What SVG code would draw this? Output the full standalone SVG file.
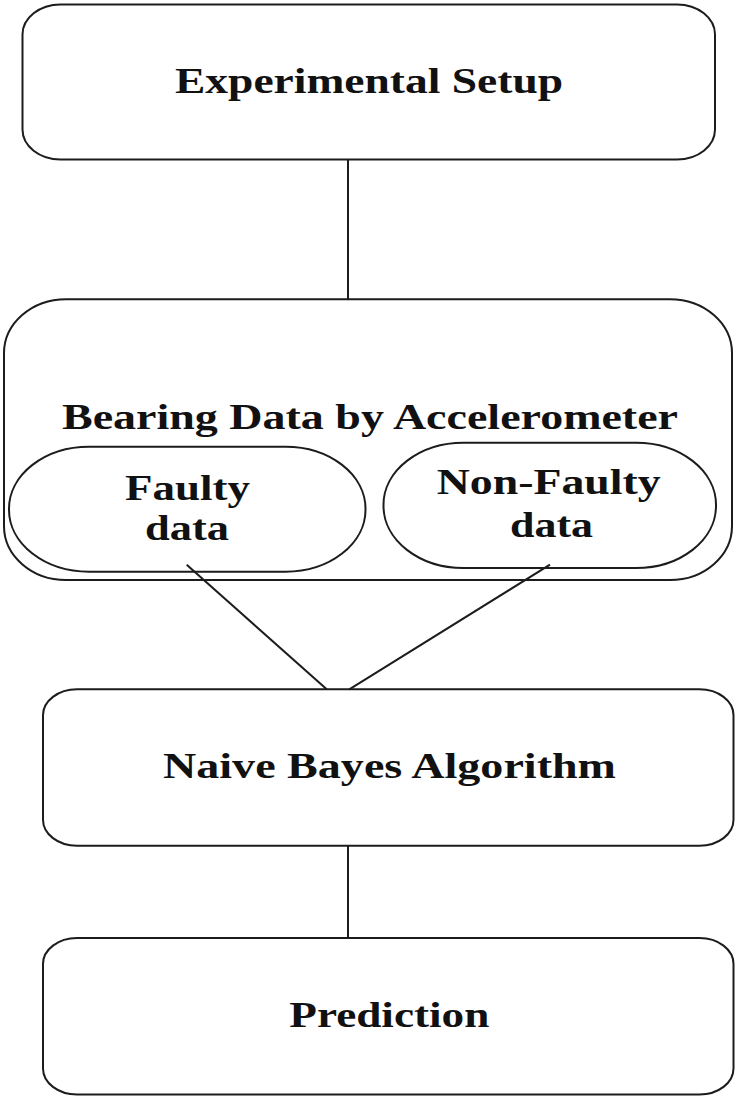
<svg xmlns="http://www.w3.org/2000/svg" width="735" height="1096" viewBox="0 0 735 1096">
  <style>
    .box { fill: #ffffff; stroke: #1e1b1c; stroke-width: 2; }
    .line { fill: none; stroke: #1e1b1c; stroke-width: 2; }
    .lbl { font-family: "Liberation Serif", "Times New Roman", serif; font-weight: bold; font-size: 36px; fill: #111111; }
  </style>
  <rect x="0" y="0" width="735" height="1096" fill="#ffffff"/>

  <g id="experimental-setup">
    <rect class="box" x="22.5" y="4.5" width="692.5" height="155" rx="38" ry="30"/>
    <text class="lbl" x="175" y="92.5" textLength="388" lengthAdjust="spacingAndGlyphs">Experimental Setup</text>
  </g>

  <g id="bearing-data">
    <rect class="box" x="4" y="299.3" width="728" height="280.7" rx="62" ry="54"/>
    <text class="lbl" x="62" y="428.5" textLength="616" lengthAdjust="spacingAndGlyphs">Bearing Data by Accelerometer</text>
  </g>

  <g id="faulty-data">
    <rect class="box" x="9" y="446.7" width="356.5" height="125" rx="80" ry="62"/>
    <text class="lbl" x="125" y="500" textLength="125" lengthAdjust="spacingAndGlyphs">Faulty</text>
    <text class="lbl" x="145" y="540" textLength="84" lengthAdjust="spacingAndGlyphs">data</text>
  </g>

  <g id="non-faulty-data">
    <rect class="box" x="383.5" y="442.7" width="332.5" height="125.3" rx="80" ry="62"/>
    <text class="lbl" x="436.7" y="494.3" textLength="224" lengthAdjust="spacingAndGlyphs">Non-Faulty</text>
    <text class="lbl" x="510" y="536.7" textLength="83" lengthAdjust="spacingAndGlyphs">data</text>
  </g>

  <g id="naive-bayes">
    <rect class="box" x="43" y="689.3" width="690.5" height="156.4" rx="34" ry="26"/>
    <text class="lbl" x="163" y="778.3" textLength="453" lengthAdjust="spacingAndGlyphs">Naive Bayes Algorithm</text>
  </g>

  <g id="prediction">
    <rect class="box" x="43" y="938" width="690.5" height="156.5" rx="34" ry="26"/>
    <text class="lbl" x="289.3" y="1027.3" textLength="200" lengthAdjust="spacingAndGlyphs">Prediction</text>
  </g>

  <!-- links drawn last so the two data lines start inside their ovals -->
  <g id="connectors">
    <line class="line" x1="348" y1="159.5" x2="348" y2="299.3"/>
    <line class="line" x1="186.7" y1="564.7" x2="326.7" y2="689.3"/>
    <line class="line" x1="550" y1="564.7" x2="349.3" y2="689.3"/>
    <line class="line" x1="348" y1="845.7" x2="348" y2="938"/>
  </g>
</svg>
